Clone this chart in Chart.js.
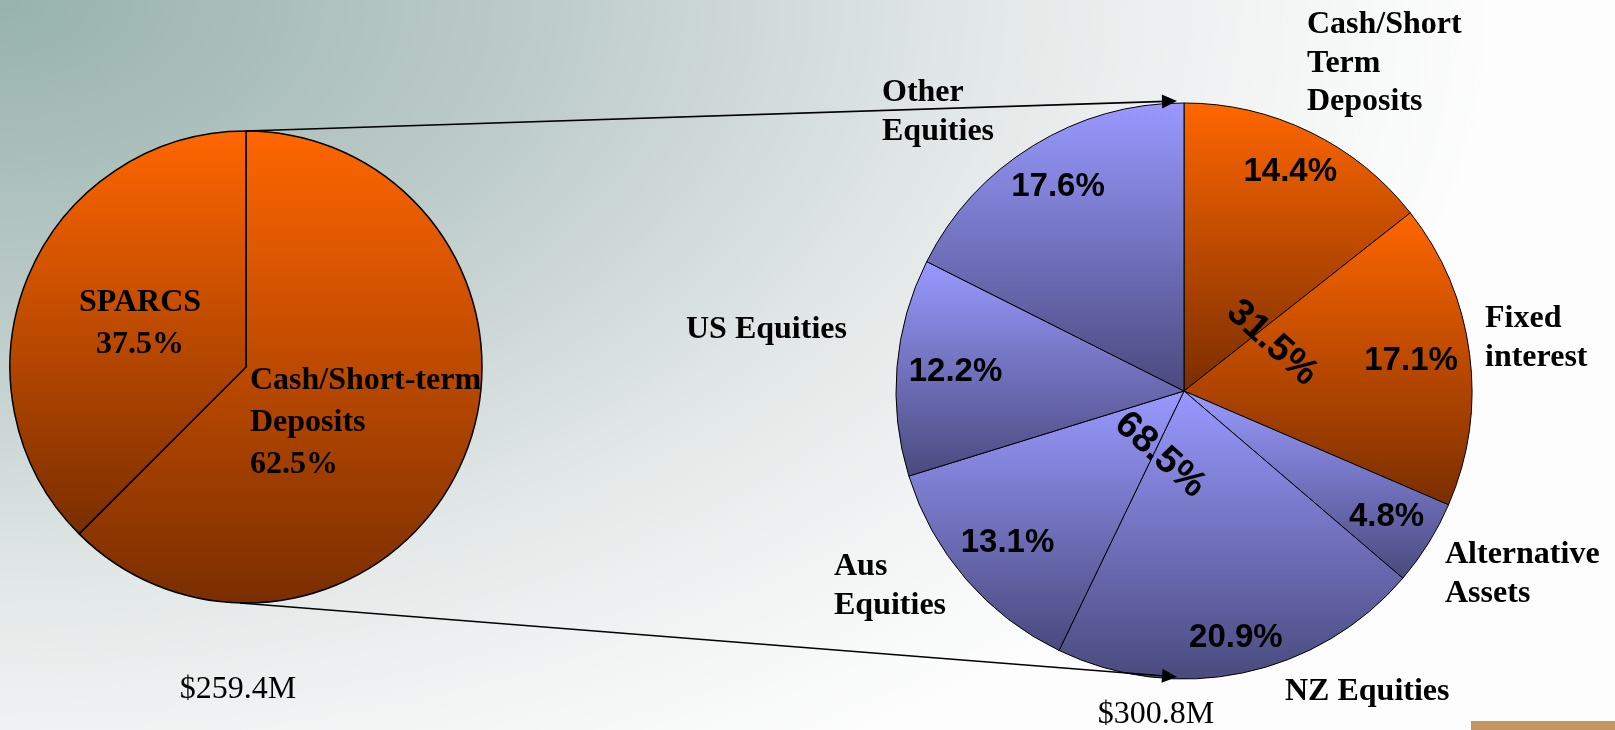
<!DOCTYPE html>
<html>
<head>
<meta charset="utf-8">
<script src="https://cdn.jsdelivr.net/npm/chart.js@4.4.0/dist/chart.umd.min.js"></script>
<style>
    html, body { margin: 0; padding: 0; }
    body {
        width: 1615px;
        height: 730px;
        overflow: hidden;
        position: relative;
        background: radial-gradient(ellipse 1500px 900px at 0 0, #97b2ad 0%, #bccbc8 35%, #e2e8e7 65%, #f3f5f5 85%, #fdfdfd 100%);
    }
    canvas { position: absolute; left: 0; top: 0; }
    #bar { position: absolute; left: 1471px; top: 721px; width: 144px; height: 9px; background: #c49560; }
</style>
</head>
<body>
<canvas id="leftPie" width="1615" height="730"></canvas>
<canvas id="rightPie" width="1615" height="730"></canvas>
<div id="bar"></div>
<script>
// Fund split (left) and the breakdown of the investment portfolio (right)

const leftLabels = [['Cash/Short-term', 'Deposits'], ['SPARCS']];
const leftValues = [62.5, 37.5];

const rightLabels = [
    ['Cash/Short', 'Term', 'Deposits'],
    ['Fixed', 'interest'],
    ['Alternative', 'Assets'],
    ['NZ Equities'],
    ['Aus', 'Equities'],
    ['US Equities'],
    ['Other', 'Equities']
];
const rightValues = [14.4, 17.1, 4.8, 20.9, 13.1, 12.2, 17.6];
const rightGroup = [0, 0, 1, 1, 1, 1, 1];   // 0 = cash & fixed interest, 1 = equities & alternatives
const groupValues = [31.5, 68.5];
const fundTotals = [259.4, 300.8];          // $M

// Layout
const W = 1615, H = 730;
const LEFT = { x: 246, y: 367, r: 236 };
const RIGHT = { x: 1184, y: 391, r: 288 };

const ORANGE = ['#ff6600', '#7a2e00'];
const PURPLE = ['#9999ff', '#4a4a7e'];

const SERIF_BOLD = 'bold 32px "Liberation Serif", "Times New Roman", serif';
const SERIF = '32px "Liberation Serif", "Times New Roman", serif';

// text offsets from the pie centre (first line baseline)
const leftLabelPos = [
    { dx: 4, dy: 22, align: 'left' },
    { dx: -106, dy: -56, align: 'center' }
];
const rightLabelPos = [
    { dx: 123, dy: -358 },
    { dx: 301, dy: -64 },
    { dx: 261, dy: 172 },
    { dx: 101, dy: 309 },
    { dx: -350, dy: 184 },
    { dx: -498, dy: -53 },
    { dx: -302, dy: -290 }
];
const groupLabelPos = [{ dx: 88, dy: -48 }, { dx: -24, dy: 64 }];
const GROUP_TILT = 42 * Math.PI / 180;
const totalPos = [{ dx: -8, dy: 331 }, { dx: -28, dy: 332 }];

function areaPadding(p) {
    const half = p.r + 4;
    return { left: p.x - half, right: W - p.x - half, top: p.y - half, bottom: H - p.y - half };
}

// vertical gradient over the slice's own extent
function sliceGradient(ctx, arc, stops) {
    const { x, y, outerRadius: r, startAngle: a0, endAngle: a1 } = arc;
    let top = Math.min(y, y + r * Math.sin(a0), y + r * Math.sin(a1));
    let bottom = Math.max(y, y + r * Math.sin(a0), y + r * Math.sin(a1));
    [-Math.PI / 2, 3 * Math.PI / 2].forEach(a => {
        if (a >= a0 && a <= a1) top = y - r;
    });
    if (Math.PI / 2 >= a0 && Math.PI / 2 <= a1) bottom = y + r;
    const g = ctx.createLinearGradient(0, top, 0, bottom);
    g.addColorStop(0, stops[0]);
    g.addColorStop(1, stops[1]);
    return g;
}

function shadingPlugin(stopsFor) {
    return {
        id: 'shading',
        beforeDatasetsDraw(chart) {
            chart.getDatasetMeta(0).data.forEach((arc, i) => {
                arc.options.backgroundColor = sliceGradient(chart.ctx, arc, stopsFor(i));
            });
        }
    };
}

function drawLines(ctx, lines, x, y, lineHeight) {
    lines.forEach((line, k) => ctx.fillText(line, x, y + k * lineHeight));
}

function drawArrow(ctx, x0, y0, x1, y1) {
    const ang = Math.atan2(y1 - y0, x1 - x0);
    ctx.beginPath();
    ctx.moveTo(x0, y0);
    ctx.lineTo(x1 - 12 * Math.cos(ang), y1 - 12 * Math.sin(ang));
    ctx.stroke();
    ctx.save();
    ctx.translate(x1, y1);
    ctx.rotate(ang);
    ctx.beginPath();
    ctx.moveTo(0, 0);
    ctx.lineTo(-15, -7);
    ctx.lineTo(-15, 7);
    ctx.closePath();
    ctx.fill();
    ctx.restore();
}

const leftDecor = {
    id: 'leftDecor',
    afterDatasetsDraw(chart) {
        const ctx = chart.ctx;
        const arc = chart.getDatasetMeta(0).data[0];
        ctx.save();
        ctx.fillStyle = '#000';
        ctx.textBaseline = 'alphabetic';
        ctx.font = SERIF_BOLD;
        leftLabels.forEach((lines, i) => {
            const pos = leftLabelPos[i];
            ctx.textAlign = pos.align;
            drawLines(ctx, lines.concat(leftValues[i].toFixed(1) + '%'), arc.x + pos.dx, arc.y + pos.dy, 42);
        });
        ctx.font = SERIF;
        ctx.textAlign = 'center';
        ctx.fillText('$' + fundTotals[0].toFixed(1) + 'M', arc.x + totalPos[0].dx, arc.y + totalPos[0].dy);
        ctx.restore();
    }
};

const leftChart = new Chart(document.getElementById('leftPie'), {
    type: 'pie',
    data: {
        labels: leftLabels,
        datasets: [{
            data: leftValues,
            radius: LEFT.r,
            backgroundColor: () => ORANGE[0],
            borderColor: '#000',
            borderWidth: 1.5
        }]
    },
    options: {
        responsive: false,
        animation: false,
        events: [],
        devicePixelRatio: 1,
        layout: { padding: areaPadding(LEFT) },
        plugins: { legend: { display: false }, tooltip: { enabled: false } }
    },
    plugins: [shadingPlugin(() => ORANGE), leftDecor]
});

const rightDecor = {
    id: 'rightDecor',
    afterDatasetsDraw(chart) {
        const ctx = chart.ctx;
        const arcs = chart.getDatasetMeta(0).data;
        const cx = arcs[0].x, cy = arcs[0].y, r = arcs[0].outerRadius;
        ctx.save();
        ctx.fillStyle = '#000';
        ctx.strokeStyle = '#000';

        // slice percentages, pushed out until the text box nearly meets the rim
        ctx.font = 'bold 33px "Liberation Sans", Arial, sans-serif';
        ctx.textAlign = 'center';
        ctx.textBaseline = 'middle';
        arcs.forEach((arc, i) => {
            const text = rightValues[i].toFixed(1) + '%';
            const w = ctx.measureText(text).width / 2, h = 12;
            const mid = (arc.startAngle + arc.endAngle) / 2;
            const ux = Math.cos(mid), uy = Math.sin(mid);
            const R = arc.outerRadius - 11;
            const b = Math.abs(ux) * w + Math.abs(uy) * h;
            const d = -b + Math.sqrt(b * b - (w * w + h * h - R * R));
            ctx.fillText(text, arc.x + ux * d, arc.y + uy * d);
        });

        // group totals, tilted
        ctx.font = 'bold 38px "Liberation Sans", Arial, sans-serif';
        groupValues.forEach((v, g) => {
            ctx.save();
            ctx.translate(cx + groupLabelPos[g].dx, cy + groupLabelPos[g].dy);
            ctx.rotate(GROUP_TILT);
            ctx.fillText(v.toFixed(1) + '%', 0, 0);
            ctx.restore();
        });

        // category names
        ctx.font = SERIF_BOLD;
        ctx.textAlign = 'left';
        ctx.textBaseline = 'alphabetic';
        rightLabels.forEach((lines, i) => {
            drawLines(ctx, lines, cx + rightLabelPos[i].dx, cy + rightLabelPos[i].dy, 38.5);
        });

        ctx.font = SERIF;
        ctx.textAlign = 'center';
        ctx.fillText('$' + fundTotals[1].toFixed(1) + 'M', cx + totalPos[1].dx, cy + totalPos[1].dy);

        // connectors from the small pie to the big one
        const src = leftChart.getDatasetMeta(0).data[0];
        ctx.lineWidth = 1.6;
        drawArrow(ctx, src.x, src.y - src.outerRadius, cx - 7, cy - r - 2);
        drawArrow(ctx, src.x - 6, src.y + src.outerRadius, cx - 7, cy + r - 2);
        ctx.restore();
    }
};

const rightChart = new Chart(document.getElementById('rightPie'), {
    type: 'pie',
    data: {
        labels: rightLabels,
        datasets: [{
            data: rightValues,
            radius: RIGHT.r,
            backgroundColor: ctx => (rightGroup[ctx.dataIndex] === 0 ? ORANGE[0] : PURPLE[0]),
            borderColor: '#000',
            borderWidth: 1
        }]
    },
    options: {
        responsive: false,
        animation: false,
        events: [],
        devicePixelRatio: 1,
        layout: { padding: areaPadding(RIGHT) },
        plugins: { legend: { display: false }, tooltip: { enabled: false } }
    },
    plugins: [shadingPlugin(i => (rightGroup[i] === 0 ? ORANGE : PURPLE)), rightDecor]
});
</script>
</body>
</html>
